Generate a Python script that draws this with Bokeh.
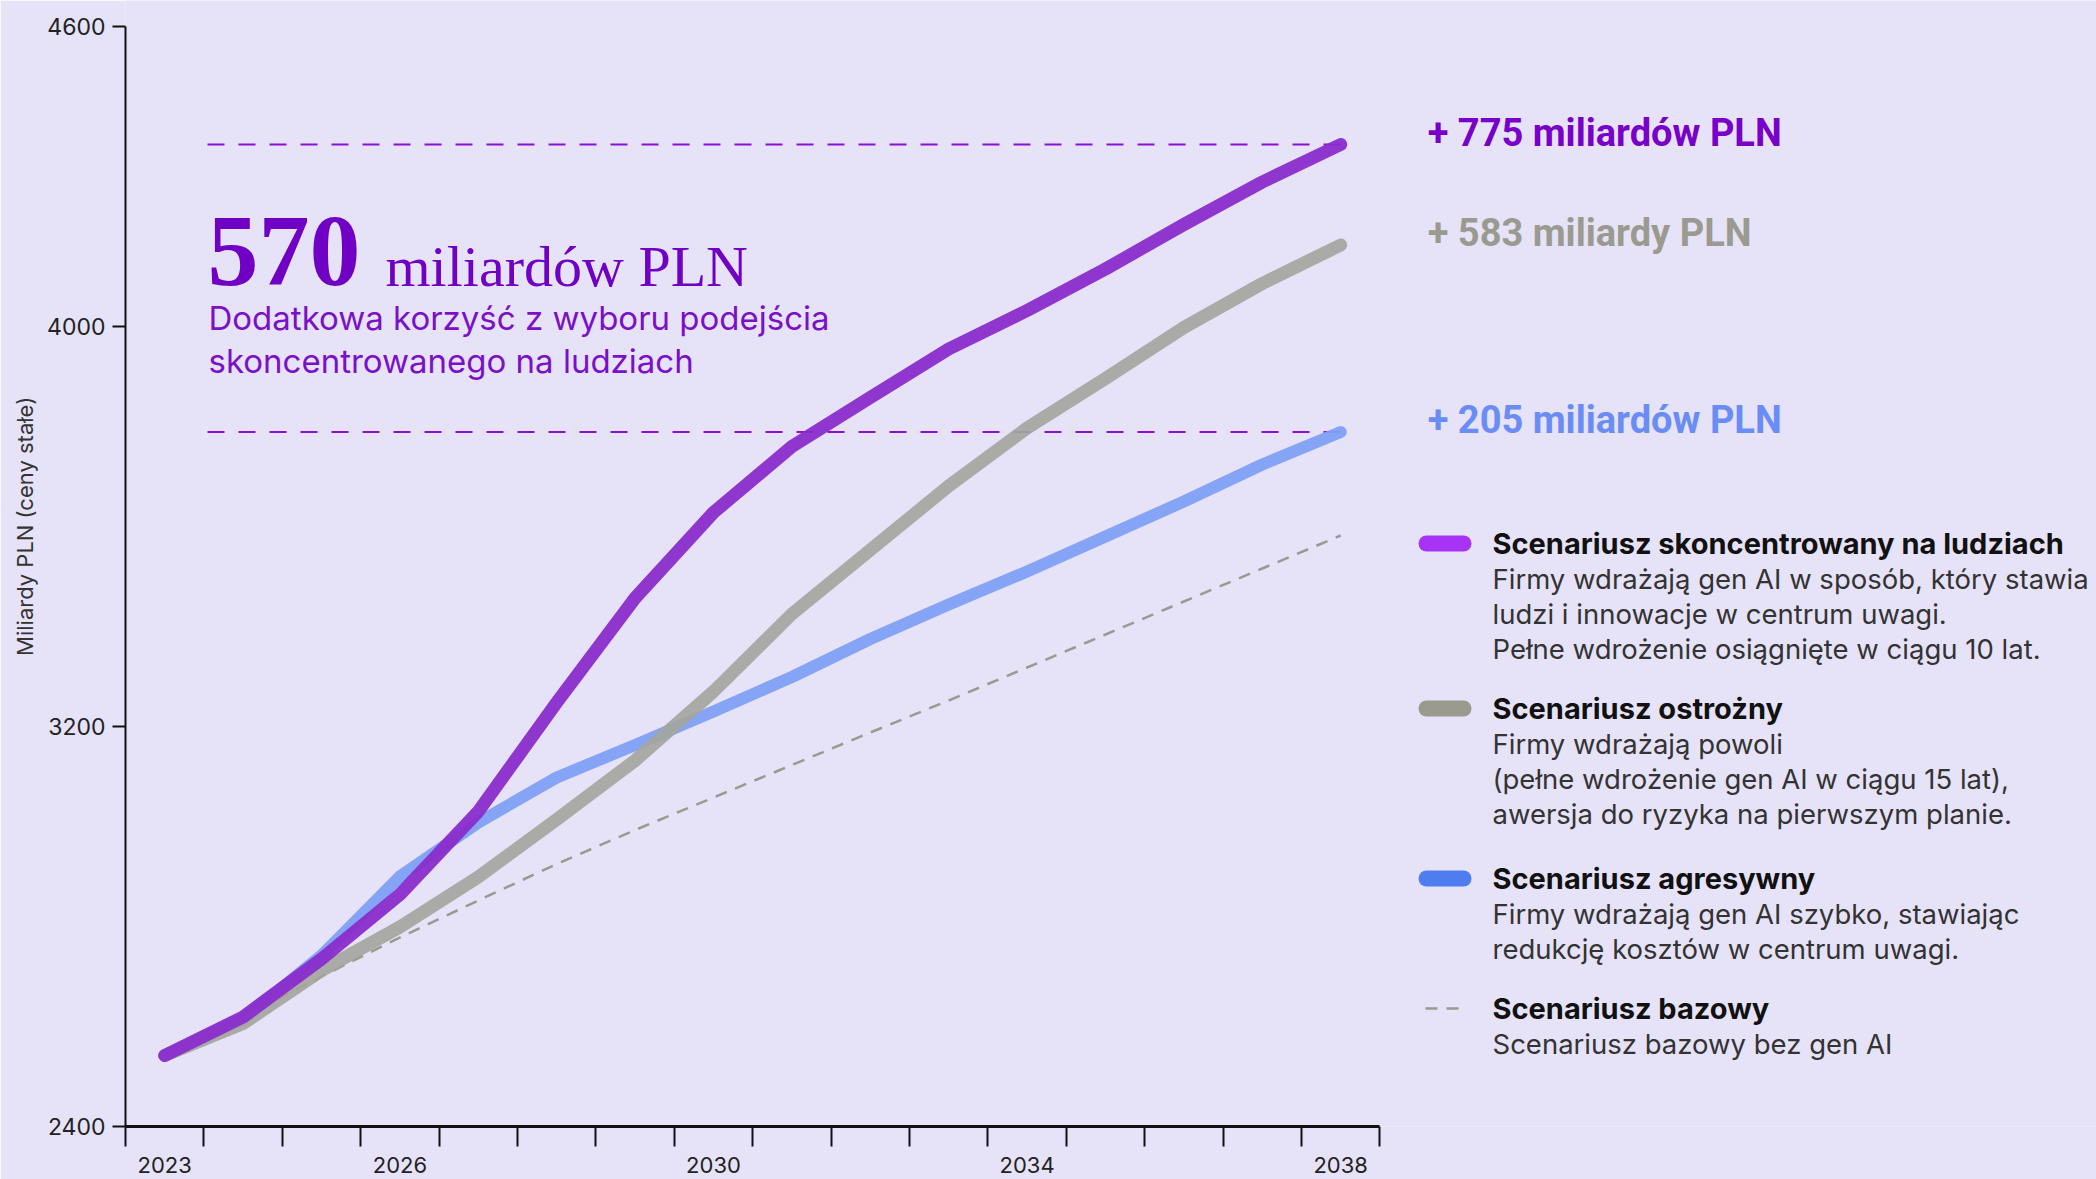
from bokeh.plotting import figure
from bokeh.models import FixedTicker, Range1d
from bokeh.core.properties import value
from bokeh.embed import file_html
from bokeh.resources import INLINE

# ---------------- data ----------------
years = list(range(2023, 2039))
human_centric = [2542, 2619, 2735, 2864, 3030, 3248, 3457, 3628, 3760, 3858, 3955, 4032, 4115, 4204, 4289, 4364]
cautious = [2542, 2606, 2712, 2799, 2899, 3014, 3132, 3270, 3425, 3553, 3681, 3797, 3896, 3998, 4086, 4163]
aggressive = [2542, 2614, 2742, 2900, 3008, 3098, 3163, 3230, 3299, 3375, 3444, 3510, 3580, 3650, 3724, 3789]
baseline = [2542, 2618, 2700, 2778, 2852, 2925, 2993, 3058, 3123, 3188, 3252, 3318, 3384, 3450, 3516, 3582]

y_ticks = [2400, 3200, 4000, 4600]
x_label_ticks = [2023, 2026, 2030, 2034, 2038]

gain_labels = ["+ 775 miliardów PLN", "+ 583 miliardy PLN", "+ 205 miliardów PLN"]
big_number = "570"
big_unit = "miliardów PLN"
subtitle = ["Dodatkowa korzyść z wyboru podejścia", "skoncentrowanego na ludziach"]
y_title = "Miliardy PLN (ceny stałe)"

legend_titles = ["Scenariusz skoncentrowany na ludziach", "Scenariusz ostrożny",
                 "Scenariusz agresywny", "Scenariusz bazowy"]
legend_desc = [
    ["Firmy wdrażają gen AI w sposób, który stawia", "ludzi i innowacje w centrum uwagi.",
     "Pełne wdrożenie osiągnięte w ciągu 10 lat."],
    ["Firmy wdrażają powoli", "(pełne wdrożenie gen AI w ciągu 15 lat),",
     "awersja do ryzyka na pierwszym planie."],
    ["Firmy wdrażają gen AI szybko, stawiając", "redukcję kosztów w centrum uwagi."],
    ["Scenariusz bazowy bez gen AI"],
]

# ---------------- styles ----------------
BG = "#E6E2F8"
C_PURPLE = "#8A2CCB"
C_GRAY = "#A5A59E"
C_BLUE = "#80A0F5"
C_BASE = "#9A9A90"
C_PURPLE_TXT = "#7800C8"
C_GRAY_TXT = "#9A9A90"
C_BLUE_TXT = "#6A8CF5"
SW_COLORS = ["#A633F5", "#9A9A8E", "#4E7DF0"]
FONT = "Inter"
BOLD_FONT = "Roboto"
SERIF = "Liberation Serif"

# layout helpers: page pixel -> data
X0_PX, PX_PER_YEAR = 125, 78.4
YB_PX, PX_PER_UNIT = 1126, 0.5
W, H = 2096, 1179
BASE_K = 0.33  # alphabetic baseline correction (fraction of font size)


def xd(px):
    return 2022.5 + (px - X0_PX) / PX_PER_YEAR


def yd(py):
    return 2400 + (YB_PX - py) / PX_PER_UNIT


def ybase(py, size):
    return yd(py - BASE_K * size)


p = figure(width=W, height=H, output_backend="svg", toolbar_location=None,
           x_range=Range1d(2022.5, xd(W)), y_range=Range1d(2400, yd(0)),
           min_border_left=X0_PX, min_border_right=0, min_border_top=0, min_border_bottom=H - YB_PX)
p.background_fill_color = BG
p.border_fill_color = BG
p.outline_line_color = None
p.grid.visible = False

# axes
xa = p.xaxis[0]
xa.ticker = FixedTicker(ticks=x_label_ticks, minor_ticks=[2022.5 + i for i in range(17)])
xa.bounds = (2022.5, 2038.5)
xa.axis_line_width = 3
xa.axis_line_color = "#111111"
xa.major_tick_out = 0
xa.major_tick_in = 0
xa.minor_tick_out = 20
xa.minor_tick_in = 0
xa.minor_tick_line_width = 2
xa.minor_tick_line_color = "#111111"
xa.major_label_standoff = 10
xa.major_label_text_font = FONT
xa.major_label_text_font_size = "22px"
xa.major_label_text_color = "#222222"

ya = p.yaxis[0]
ya.ticker = FixedTicker(ticks=y_ticks, minor_ticks=[])
ya.bounds = (2400, 4600)
ya.axis_line_width = 2
ya.axis_line_color = "#111111"
ya.major_tick_out = 13
ya.major_tick_in = 0
ya.major_tick_line_width = 2
ya.major_tick_line_color = "#111111"
ya.major_label_standoff = 7
ya.major_label_text_font = FONT
ya.major_label_text_font_size = "23px"
ya.major_label_text_color = "#222222"
# leading no-break spaces shift the visible title upward, as in the reference
ya.axis_label = "\u00a0" * 12 + y_title
ya.axis_label_text_font = FONT
ya.axis_label_text_font_style = "normal"
ya.axis_label_text_font_size = "22px"
ya.axis_label_text_color = "#333333"
ya.axis_label_standoff = 6

# reference dashed lines at end values
ends = [human_centric[-1], aggressive[-1]]
p.segment(x0=[xd(207)] * 2, x1=[years[-1]] * 2, y0=ends, y1=ends,
          line_color="#8A10D8", line_width=2, line_dash="17 14")

# series
p.line(years, baseline, line_color=C_BASE, line_width=2.5, line_dash="12 9")
p.line(years, aggressive, line_color=C_BLUE, line_width=12, line_cap="round", line_join="round", line_alpha=0.95)
p.line(years, cautious, line_color=C_GRAY, line_width=13, line_cap="round", line_join="round", line_alpha=0.92)
p.line(years, human_centric, line_color=C_PURPLE, line_width=13, line_cap="round", line_join="round", line_alpha=0.95)

# gain labels next to line ends
for val, txt, col in zip([human_centric[-1], cautious[-1], aggressive[-1]], gain_labels,
                         [C_PURPLE_TXT, C_GRAY_TXT, C_BLUE_TXT]):
    p.text(x=[years[-1]], y=[val], text=[txt], x_offset=87, y_offset=-12,
           text_font=value(BOLD_FONT), text_font_style="bold", text_font_size="38px",
           text_color=col, text_baseline="middle", text_align="left")

# headline
p.text(x=[xd(207)], y=[ybase(285, 102)], text=[big_number], text_font=value(SERIF), text_font_style="bold",
       text_font_size="102px", text_color="#7000C4", text_baseline="alphabetic", text_align="left")
p.text(x=[xd(385)], y=[ybase(285, 58)], text=[big_unit], text_font=value(SERIF),
       text_font_size="58px", text_color="#7000C4", text_baseline="alphabetic", text_align="left")
for line_txt, base in zip(subtitle, [328, 371]):
    p.text(x=[xd(208)], y=[ybase(base, 33)], text=[line_txt], text_font=value(FONT),
           text_font_size="33px", text_color="#7A10C8", text_baseline="alphabetic", text_align="left")

# legend
title_base = [553, 718, 888, 1018]
for i, (title, desc) in enumerate(zip(legend_titles, legend_desc)):
    tb = title_base[i]
    p.text(x=[xd(1492)], y=[ybase(tb, 29)], text=[title], text_font=value(FONT), text_font_style="bold",
           text_font_size="29px", text_color="#111111", text_baseline="alphabetic", text_align="left")
    for j, d in enumerate(desc):
        p.text(x=[xd(1492)], y=[ybase(tb + 35 + 34.7 * j, 27.5)], text=[d], text_font=value(FONT),
               text_font_size="27.5px", text_color="#333333", text_baseline="alphabetic", text_align="left")
    sy = yd(tb - 10)
    if i < 3:
        p.segment(x0=[xd(1426)], x1=[xd(1463)], y0=[sy], y1=[sy], line_color=SW_COLORS[i],
                  line_width=16, line_cap="round")
    else:
        p.segment(x0=[xd(1425)], x1=[xd(1458)], y0=[sy], y1=[sy], line_color=C_BASE,
                  line_width=2.5, line_dash="12 9")

open("out.html", "w").write(file_html(p, INLINE))
